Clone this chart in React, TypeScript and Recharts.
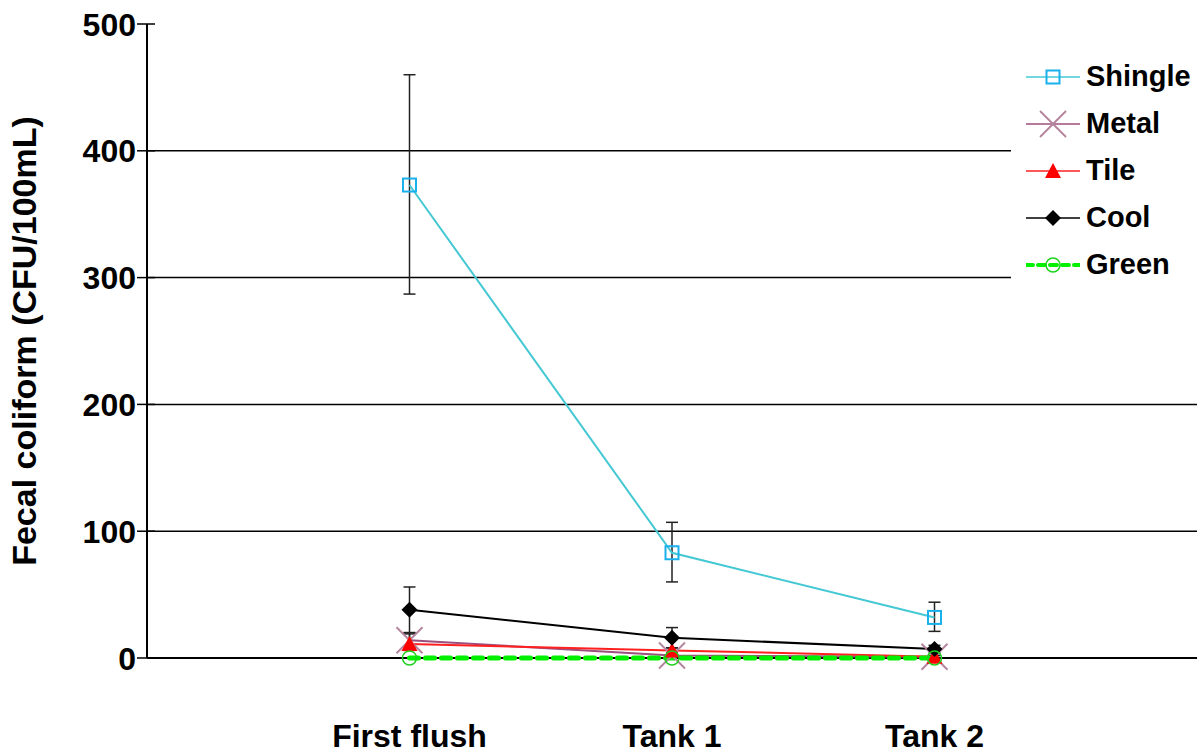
import { ErrorBar, Legend, Line, LineChart, ReferenceLine, XAxis, YAxis } from "recharts";

const categories = ["First flush", "Tank 1", "Tank 2"];
const shingle = [373, 83, 32];
const shingleErr = [[86, 87], [23, 24], [11, 12]];
const metal = [14, 2, 1];
const metalErr = [[6, 6], [1, 1], [1, 1]];
const tile = [11, 6, 1];
const tileErr = [[5, 8], [2, 2], [1, 1]];
const cool = [38, 16, 7];
const coolErr = [[18, 18], [8, 8], [3, 3]];
const green = [0, 0, 0];

const yTicks = [0, 100, 200, 300, 400, 500];
const gridValues = [100, 200, 300, 400];

const FONT = "'Liberation Sans', Arial, sans-serif";

const rows = categories.map((name, i) => ({
  x: i + 1,
  name,
  shingle: shingle[i],
  shingleErr: shingleErr[i],
  metal: metal[i],
  metalErr: metalErr[i],
  tile: tile[i],
  tileErr: tileErr[i],
  cool: cool[i],
  coolErr: coolErr[i],
  green: green[i],
}));

type Shape = "square" | "cross" | "triangle" | "diamond" | "circle";

function Marker({ shape, cx, cy }: { shape: Shape; cx: number; cy: number }) {
  switch (shape) {
    case "square":
      return <rect x={cx - 6.5} y={cy - 6.5} width={13} height={13} fill="none" stroke="#1ab0ec" strokeWidth={2} />;
    case "cross":
      return (
        <g stroke="#b5849e" strokeWidth={2}>
          <line x1={cx - 13} y1={cy - 13} x2={cx + 13} y2={cy + 13} />
          <line x1={cx - 13} y1={cy + 13} x2={cx + 13} y2={cy - 13} />
        </g>
      );
    case "triangle":
      return <polygon points={`${cx},${cy - 8} ${cx + 8},${cy + 7} ${cx - 8},${cy + 7}`} fill="#ff0000" />;
    case "diamond":
      return <polygon points={`${cx},${cy - 8} ${cx + 8},${cy} ${cx},${cy + 8} ${cx - 8},${cy}`} fill="#000" />;
    default:
      return <circle cx={cx} cy={cy} r={7} fill="none" stroke="#1fd11f" strokeWidth={1.5} />;
  }
}

const series = [
  { key: "shingle", name: "Shingle", color: "#44c8d4", width: 2, shape: "square" as Shape, err: "shingleErr" },
  { key: "metal", name: "Metal", color: "#9b4f7c", width: 2, shape: "cross" as Shape, err: "metalErr" },
  { key: "tile", name: "Tile", color: "#ff2020", width: 2, shape: "triangle" as Shape, err: "tileErr" },
  { key: "cool", name: "Cool", color: "#000", width: 2, shape: "diamond" as Shape, err: "coolErr" },
  { key: "green", name: "Green", color: "#00f000", width: 5, shape: "circle" as Shape, err: null, dash: "9 7" },
];

const YTick = (props: any) => {
  const { x, y, payload } = props;
  return (
    <g>
      <line x1={x - 10} y1={y} x2={x + 8} y2={y} stroke="#000" strokeWidth={1.5} />
      <text x={x - 11} y={y} dy="0.36em" textAnchor="end" fontFamily={FONT} fontWeight="bold" fontSize={32} fill="#000">
        {payload.value}
      </text>
    </g>
  );
};

const XTick = (props: any) => {
  const { x, y, payload } = props;
  return (
    <text x={x} y={y + 77} dy="0.36em" textAnchor="middle" fontFamily={FONT} fontWeight="bold" fontSize={32} fill="#000">
      {categories[payload.value - 1]}
    </text>
  );
};

const LegendBox = () => (
  <div style={{ background: "#fff", width: 186, fontFamily: FONT, fontWeight: "bold", fontSize: 29 }}>
    {series.map((s) => (
      <div key={s.key} style={{ height: 47, display: "flex", alignItems: "center", paddingLeft: 15 }}>
        <svg width={54} height={30} style={{ marginRight: 6 }}>
          <line x1={0} y1={15} x2={54} y2={15} stroke={s.color} strokeWidth={s.key === "green" ? 4 : 1.5}
            strokeDasharray={s.key === "green" ? "7 5" : undefined} strokeLinecap={s.key === "green" ? "round" : undefined} />
          <Marker shape={s.shape} cx={27} cy={15} />
        </svg>
        <span style={{ color: "#000", lineHeight: 1 }}>{s.name}</span>
      </div>
    ))}
  </div>
);

export default function App() {
  return (
    <div style={{ position: "absolute", left: 0, top: 0, background: "#fff" }}>
      <LineChart width={1203} height={753} data={rows} margin={{ top: 24, right: 6, left: 0, bottom: 0 }}>
        {/* horizontal rules, x-axis baseline included, kept under the series */}
        {[0, ...gridValues].map((v) => (
          <ReferenceLine key={v} y={v} stroke="#000" strokeWidth={v === 0 ? 2 : 1.5} />
        ))}
        <XAxis
          dataKey="x"
          type="number"
          domain={[0, 4]}
          ticks={[1, 2, 3]}
          height={95}
          tickLine={false}
          tickSize={0}
          tickMargin={0}
          axisLine={false}
          tick={<XTick />}
        />
        <YAxis
          type="number"
          domain={[0, 500]}
          ticks={yTicks}
          width={147}
          tickLine={false}
          tickSize={0}
          tickMargin={0}
          axisLine={{ stroke: "#000", strokeWidth: 2 }}
          tick={<YTick />}
          label={{
            value: "Fecal coliform (CFU/100mL)",
            angle: -90,
            position: "insideLeft",
            dx: 19,
            style: { fontFamily: FONT, fontWeight: "bold", fontSize: 34, fill: "#000", textAnchor: "middle" },
          }}
        />
        <Legend
          layout="vertical"
          align="center"
          verticalAlign="middle"
          content={<LegendBox />}
          wrapperStyle={{ position: "absolute", left: 1011, top: 53, width: 186 }}
        />
        {series.map((s) => (
          <Line
            key={s.key}
            type="linear"
            dataKey={s.key}
            name={s.name}
            stroke={s.color}
            strokeWidth={s.width}
            strokeDasharray={s.dash}
            strokeLinecap={s.dash ? "round" : "butt"}
            isAnimationActive={false}
            dot={(p: any) => (
              <g key={`${s.key}-${p.index}`}>
                <Marker shape={s.shape} cx={p.cx} cy={p.cy} />
              </g>
            )}
            activeDot={false}
          >
            {s.err && <ErrorBar dataKey={s.err} direction="y" width={6} stroke="#222" strokeWidth={1.5} />}
          </Line>
        ))}
      </LineChart>
    </div>
  );
}
